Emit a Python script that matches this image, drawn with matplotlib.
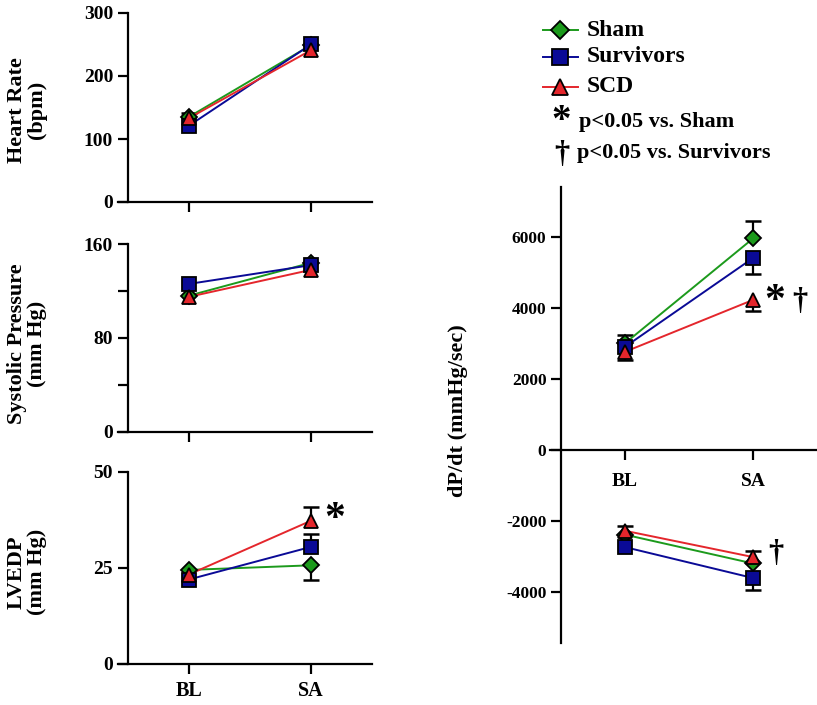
import numpy as np
import matplotlib.pyplot as plt

plt.rcParams['font.family'] = ['Liberation Serif', 'DejaVu Serif']
plt.rcParams['font.weight'] = 'bold'
plt.rcParams['axes.unicode_minus'] = False

phases = ['BL', 'SA']
groups = ['Sham', 'Survivors', 'SCD']
colors = {'Sham': '#1c9a1c', 'Survivors': '#0a0a96', 'SCD': '#e4262c'}
markers = {'Sham': 'D', 'Survivors': 's', 'SCD': '^'}
msize = {'Sham': 8, 'Survivors': 10, 'SCD': 10}

# heart rate (bpm)
hr_sham = [135, 249]
hr_surv = [121, 250]
hr_scd = [133, 241]
hr_up_scd = [9, 0]

# systolic pressure (mm Hg)
sp_sham = [116, 144]
sp_surv = [126, 142]
sp_scd = [115, 138]

# LVEDP (mm Hg)
lv_sham = [24.5, 25.7]
lv_surv = [22.0, 30.5]
lv_scd = [23.3, 37.3]
lv_dn_sham = [0, 3.9]
lv_up_surv = [0, 3.3]
lv_up_scd = [0, 3.5]

# dP/dt max and min (mmHg/sec)
dpmax_sham = [3000, 5950]
dpmax_surv = [2900, 5400]
dpmax_scd = [2760, 4220]
dpmax_up_sham = [235, 490]
dpmax_dn_surv = [0, 440]
dpmax_dn_scd = [220, 300]

dpmin_sham = [-2390, -3200]
dpmin_surv = [-2740, -3610]
dpmin_scd = [-2280, -3020]
dpmin_up_scd = [140, 160]
dpmin_dn_surv = [0, 330]

W, H = 817, 705
fig = plt.figure(figsize=(W / 100, H / 100), dpi=100)


def px_axes(x0, x1, y0, y1):
    # pixel box -> figure fraction
    return fig.add_axes([x0 / W, 1 - y1 / H, (x1 - x0) / W, (y1 - y0) / H])


def whisker(ax, x, y, err, sign, color='black'):
    for xi, yi, e in zip(x, y, err):
        if e > 0:
            ax.vlines(xi, yi, yi + sign * e, color=color, lw=1.6, zorder=2)
            ax.plot(xi, yi + sign * e, marker='_', ms=11, mew=1.8, color=color, zorder=2)


def series(ax, vals):
    x = np.arange(len(phases))
    for g, v in zip(groups, vals):
        ax.plot(x, v, color=colors[g], lw=1.4, zorder=3)
    for g, v in zip(groups, vals):
        ax.plot(x, v, linestyle='none', marker=markers[g], ms=msize[g],
                mfc=colors[g], mec='black', mew=1.3, zorder=4)


def style(ax, xlabels=True, tsize=14, xsize=14, pad=6):
    ax.set_xlim(-0.58, 1.5)
    ax.spines['top'].set_visible(False)
    ax.spines['right'].set_visible(False)
    ax.spines['left'].set_position(('data', -0.5))
    for s in ['left', 'bottom']:
        ax.spines[s].set_linewidth(1.6)
    ax.set_xticks(range(len(phases)))
    ax.set_xticklabels(phases if xlabels else [], fontsize=xsize)
    ax.tick_params(width=1.6, length=7, labelsize=tsize, direction='out')
    ax.tick_params(axis='x', length=7, pad=pad, labelsize=xsize)
    ax.set_facecolor('none')


x = np.arange(len(phases))

# Heart rate
ax1 = px_axes(118, 372, 13, 202)
whisker(ax1, x, hr_scd, hr_up_scd, 1)
series(ax1, [hr_sham, hr_surv, hr_scd])
ax1.set_ylim(0, 300)
ax1.set_yticks([0, 100, 200, 300])
style(ax1, xlabels=False)

# Systolic pressure
ax2 = px_axes(118, 372, 244, 432)
series(ax2, [sp_sham, sp_surv, sp_scd])
ax2.set_ylim(0, 160)
ax2.set_yticks([0, 40, 80, 120, 160])
ax2.set_yticklabels(['0', '', '80', '', '160'])
style(ax2, xlabels=False)

# LVEDP
ax3 = px_axes(118, 372, 472, 664)
whisker(ax3, x, lv_sham, lv_dn_sham, -1)
whisker(ax3, x, lv_surv, lv_up_surv, 1)
whisker(ax3, x, lv_scd, lv_up_scd, 1)
series(ax3, [lv_sham, lv_surv, lv_scd])
ax3.set_ylim(0, 50)
ax3.set_yticks([0, 25, 50])
style(ax3, xsize=14.5, pad=5)
ax3.text(1.11, 37.4, '*', fontsize=30, ha='left', va='center')

# dP/dt
ax4 = px_axes(550, 817, 187, 643)
whisker(ax4, x, dpmax_sham, dpmax_up_sham, 1)
whisker(ax4, x, dpmax_surv, dpmax_dn_surv, -1)
whisker(ax4, x, dpmax_scd, dpmax_dn_scd, -1)
whisker(ax4, x, dpmin_scd, dpmin_up_scd, 1)
whisker(ax4, x, dpmin_surv, dpmin_dn_surv, -1)
series(ax4, [dpmax_sham, dpmax_surv, dpmax_scd])
series(ax4, [dpmin_sham, dpmin_surv, dpmin_scd])
ax4.set_ylim(-5440, 7400)
ax4.set_yticks([-4000, -2000, 0, 2000, 4000, 6000])
style(ax4, tsize=12.5, xsize=14, pad=10)
ax4.set_xlim(-0.586, 1.5)
ax4.spines['bottom'].set_position(('data', 0))
ax4.text(1.09, 4150, '*', fontsize=30, ha='left', va='center')
ax4.text(1.31, 4180, '\u2020', fontsize=22, ha='left', va='center')
ax4.text(1.12, -2910, '\u2020', fontsize=22, ha='left', va='center')

# y labels
fig.text(27 / W, 1 - 110 / H, 'Heart Rate\n(bpm)', rotation=90, ha='center', va='center',
         fontsize=16, linespacing=1.0)
fig.text(27 / W, 1 - 344 / H, 'Systolic Pressure\n(mm Hg)', rotation=90, ha='center',
         va='center', fontsize=16, linespacing=1.0)
fig.text(27 / W, 1 - 572 / H, 'LVEDP\n(mm Hg)', rotation=90, ha='center', va='center',
         fontsize=16, linespacing=1.0)
fig.text(458 / W, 1 - 411 / H, 'dP/dt (mmHg/sec)', rotation=90, ha='center', va='center',
         fontsize=16)

# legend drawn in pixel space
leg = fig.add_axes([0, 0, 1, 1], zorder=10)
leg.set_xlim(0, W)
leg.set_ylim(H, 0)
leg.axis('off')
for g, yy in zip(groups, [30, 57, 87]):
    leg.plot([543, 578], [yy, yy], color=colors[g], lw=1.4)
    leg.plot(560.5, yy, marker=markers[g], ms=msize[g] + 1, mfc=colors[g], mec='black', mew=1.3)
    leg.text(587, yy, g, fontsize=17, va='center', ha='left')
leg.text(561, 122, '*', fontsize=28, ha='center', va='center')
leg.text(579, 122, 'p<0.05 vs. Sham', fontsize=16, va='center', ha='left')
leg.text(562, 155, '\u2020', fontsize=22, ha='center', va='center')
leg.text(577, 153, 'p<0.05 vs. Survivors', fontsize=16, va='center', ha='left')

fig.savefig('out.png', dpi=100)
